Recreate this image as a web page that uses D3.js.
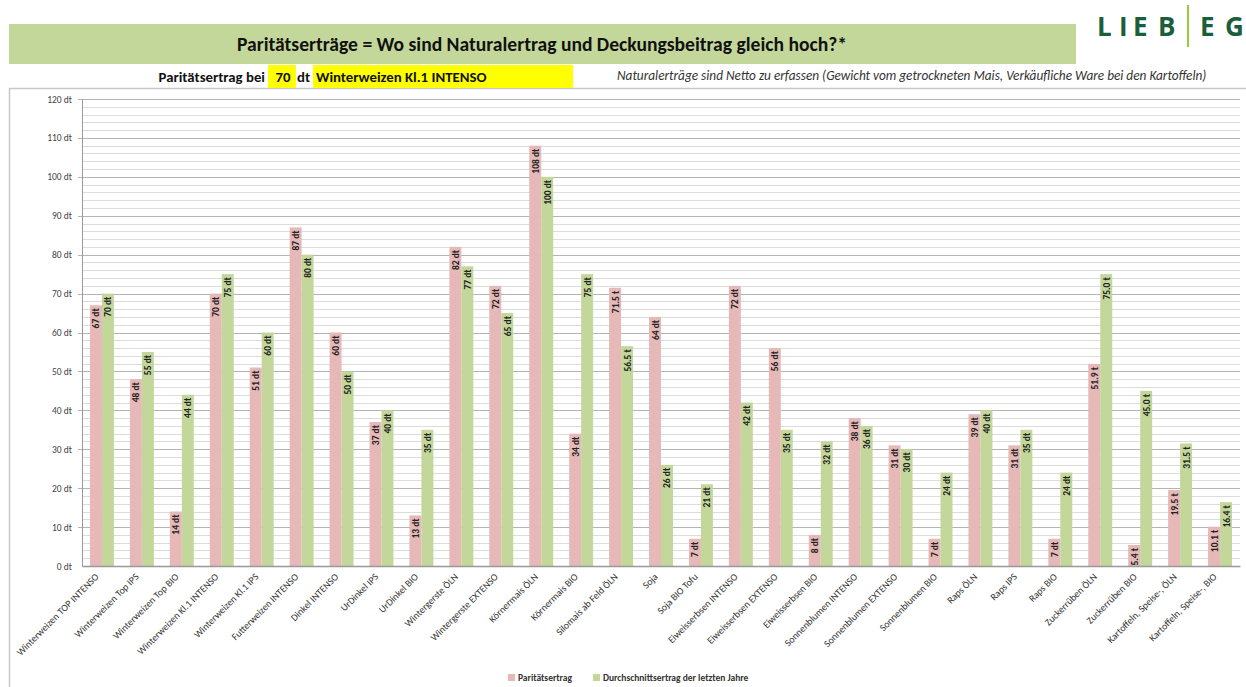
<!DOCTYPE html>
<html><head><meta charset="utf-8">
<script src="https://cdn.jsdelivr.net/npm/d3@7"></script>
<style>
html,body{margin:0;padding:0;background:#fff;}
svg{display:block;font-family:Carlito,Lato,"Open Sans",sans-serif;}
</style></head>
<body>
<svg id="c" width="1246" height="687"></svg>
<script>
const categories = ["Winterweizen TOP INTENSO","Winterweizen Top IPS","Winterweizen Top BIO","Winterweizen Kl.1 INTENSO","Winterweizen Kl.1 IPS","Futterweizen INTENSO","Dinkel INTENSO","UrDinkel IPS","UrDinkel BIO","Wintergerste ÖLN","Wintergerste EXTENSO","Körnermais ÖLN","Körnermais BIO","Silomais ab Feld ÖLN","Soja","Soja BIO Tofu","Eiweisserbsen INTENSO","Eiweisserbsen EXTENSO","Eiweisserbsen BIO","Sonnenblumen INTENSO","Sonnenblumen EXTENSO","Sonnenblumen BIO","Raps ÖLN","Raps IPS","Raps BIO","Zuckerrüben ÖLN","Zuckerrüben BIO","Kartoffeln, Speise-, ÖLN","Kartoffeln, Speise-, BIO"];
const units = ["dt","dt","dt","dt","dt","dt","dt","dt","dt","dt","dt","dt","dt","t","dt","dt","dt","dt","dt","dt","dt","dt","dt","dt","dt","t","t","t","t"];
const paritaet = [67,48,14,70,51,87,60,37,13,82,72,108,34,71.5,64,7,72,56,8,38,31,7,39,31,7,51.9,5.4,19.5,10.1];
const durchschnitt = [70,55,44,75,60,80,50,40,35,77,65,100,75,56.5,26,21,42,35,32,36,30,24,40,35,24,75.0,45.0,31.5,16.4];
const seriesNames = ["Paritätsertrag","Durchschnittsertrag der letzten Jahre"];
const yTicks = [0,10,20,30,40,50,60,70,80,90,100,110,120];
const title = "Paritätserträge = Wo sind Naturalertrag und Deckungsbeitrag gleich hoch?*";
const note = "Naturalerträge sind Netto zu erfassen (Gewicht vom getrockneten Mais, Verkäufliche Ware bei den Kartoffeln)";
const refYield = "70";
const refCrop = "Winterweizen Kl.1 INTENSO";

const colors = ["#e6b8b7","#c4d79b"];
const svg = d3.select("#c");

// frame
svg.append("path").attr("d","M9.5,687 V88.5 H1246").attr("fill","none").attr("stroke","#c8c8c8").attr("stroke-width",1.5);

// banner
svg.append("rect").attr("x",9).attr("y",24).attr("width",1067).attr("height",40).attr("fill","#c4d79b");
svg.append("text").attr("x",542).attr("y",50.5).attr("text-anchor","middle")
  .attr("font-size",19.6).attr("font-weight","bold").attr("fill","#111").text(title);

// logo
const logo = svg.append("g").attr("fill","#1b5e3b").attr("font-weight","bold").attr("font-size",26)
  .attr("font-family","'Open Sans',Lato,sans-serif");
[["L",1097],["I",1119],["E",1133],["B",1158],["E",1200],["G",1225]].forEach(([t,xx])=>{
  logo.append("text").attr("x",xx).attr("y",36).text(t);
});
svg.append("rect").attr("x",1187).attr("y",5).attr("width",2).attr("height",42).attr("fill","#9cc83c");

// subtitle row
const fs = 14.8;
svg.append("text").attr("x",265).attr("y",82).attr("text-anchor","end").attr("font-size",fs).attr("font-weight","bold").attr("fill","#111").text("Paritätsertrag bei");
svg.append("rect").attr("x",268).attr("y",65).attr("width",28).attr("height",23).attr("fill","#ffff00");
svg.append("text").attr("x",283).attr("y",82).attr("text-anchor","middle").attr("font-size",fs).attr("font-weight","bold").attr("fill","#111").text(refYield);
svg.append("text").attr("x",297).attr("y",82).attr("font-size",fs).attr("font-weight","bold").attr("fill","#111").text("dt");
svg.append("rect").attr("x",313).attr("y",65).attr("width",260).attr("height",23).attr("fill","#ffff00");
svg.append("text").attr("x",316).attr("y",82).attr("font-size",fs).attr("font-weight","bold").attr("fill","#111").text(refCrop);
svg.append("text").attr("x",617).attr("y",80).attr("font-size",13.3).attr("font-style","italic").attr("fill","#333").text(note);

// plot
const pLeft = 82, pRight = 1240, pTop = 99, pBottom = 566;
const x = d3.scaleBand().domain(categories).range([pLeft,pRight]).paddingInner(0.4).paddingOuter(0.2);
const xs = d3.scaleBand().domain([0,1]).range([0,x.bandwidth()]);
const y = d3.scaleLinear().domain([0,120]).range([pBottom,pTop]);

const g = svg.append("g");
// minor grid
g.selectAll("line.minor").data(d3.range(0,121,2).filter(v=>v%10!==0)).join("line")
  .attr("x1",pLeft).attr("x2",pRight).attr("y1",d=>Math.round(y(d))+0.5).attr("y2",d=>Math.round(y(d))+0.5)
  .attr("stroke","#dcdcdc").attr("stroke-width",1.2);
// major grid
g.selectAll("line.major").data(yTicks.slice(1)).join("line")
  .attr("x1",pLeft-4).attr("x2",pRight).attr("y1",d=>Math.round(y(d))+0.5).attr("y2",d=>Math.round(y(d))+0.5)
  .attr("stroke","#b4b4b4").attr("stroke-width",1.2);

// y axis labels
const yAxis = d3.axisLeft(y).tickValues(yTicks).tickSize(0).tickPadding(10).tickFormat(d=>d+" dt");
const ya = svg.append("g").attr("transform",`translate(${pLeft},0)`).call(yAxis);
ya.select(".domain").attr("stroke","#999");
ya.selectAll("text").attr("font-size",9.5).attr("fill","#444").attr("font-family","Carlito,Lato,sans-serif");

// bars
const series = [paritaet,durchschnitt];
series.forEach((vals,si)=>{
  const bg = svg.append("g");
  bg.selectAll("rect").data(vals).join("rect")
    .attr("x",(d,i)=>x(categories[i])+xs(si))
    .attr("width",xs.bandwidth())
    .attr("y",d=>y(d)).attr("height",d=>pBottom-y(d))
    .attr("fill",colors[si]);
  bg.selectAll("text").data(vals).join("text")
    .attr("transform",(d,i)=>`translate(${x(categories[i])+xs(si)+xs.bandwidth()/2+0.5},${y(d)+3}) rotate(-90)`)
    .attr("text-anchor","end").attr("dominant-baseline","central")
    .attr("font-size",9.5).attr("font-weight","600").attr("fill","#222")
    .text((d,i)=> units[i]==="t" ? d.toFixed(1)+" t" : Math.round(d)+" dt");
});

// x axis
const xAxis = d3.axisBottom(x).tickSize(0).tickPadding(0);
const xa = svg.append("g").attr("transform",`translate(0,${pBottom})`).call(xAxis);
xa.select(".domain").attr("stroke","#999").attr("stroke-width",1.5);
xa.selectAll("text")
  .attr("font-size",9.8).attr("fill","#333").attr("font-family","Carlito,Lato,sans-serif")
  .attr("text-anchor","end")
  .attr("transform","translate(-5,9) rotate(-45)")
  .attr("dy","0.35em").attr("y",0);

// legend
const leg = svg.append("g").attr("font-size",9.5).attr("font-weight","bold").attr("fill","#333");
const legX = [508,593];
seriesNames.forEach((n,i)=>{
  leg.append("rect").attr("x",legX[i]).attr("y",674).attr("width",7).attr("height",7).attr("fill",colors[i]);
  leg.append("text").attr("x",legX[i]+10).attr("y",681).text(n);
});
</script>
</body></html>
